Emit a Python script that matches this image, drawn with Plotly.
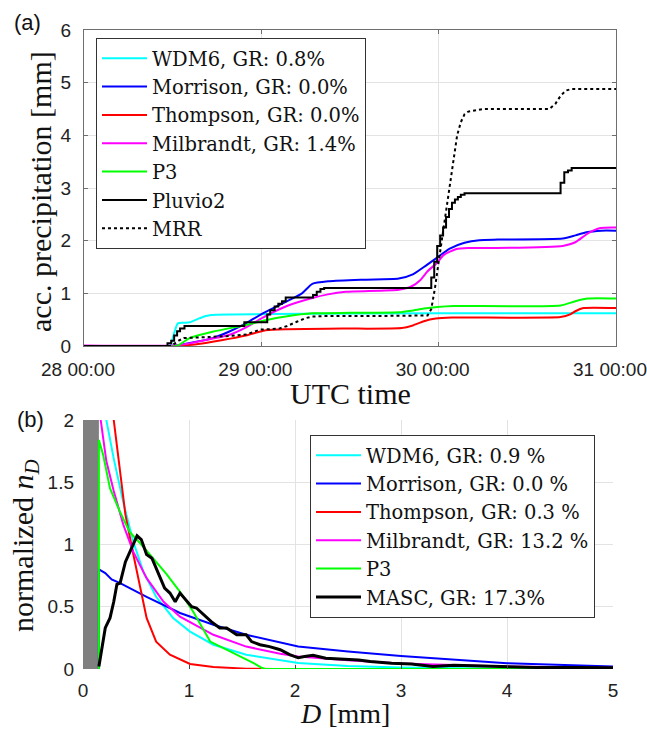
import pandas as pd
import plotly.graph_objects as go

# ---------------- Panel (a): accumulated precipitation ----------------
t0 = pd.Timestamp("2016-01-28 00:00")
day_ticks = ["28 00:00", "29 00:00", "30 00:00", "31 00:00"]

wdm6_h = [0, 11.6, 12.1, 12.7, 13.5, 14.3, 15.5, 16.5, 17.2, 20, 30, 48, 60, 72]
wdm6_v = [0.0, 0.0, 0.2, 0.43, 0.44, 0.45, 0.52, 0.57, 0.59, 0.6, 0.61, 0.62, 0.62, 0.62]

morr_h = [0, 11.8, 14, 17.4, 19.6, 21.9, 24.2, 27.3, 29.5, 30.9, 33.2, 38, 42.6, 44.5, 46,
          47.8, 49.5, 51.5, 53.5, 56, 64.8, 66.5, 68, 70, 72]
morr_v = [0, 0, 0.05, 0.15, 0.27, 0.43, 0.62, 0.84, 1.0, 1.18, 1.23, 1.26, 1.28, 1.36, 1.5,
          1.68, 1.85, 1.96, 2.01, 2.02, 2.04, 2.1, 2.16, 2.19, 2.19]

thom_h = [0, 12.5, 15, 17.4, 19.8, 21.9, 23.5, 24.6, 27.3, 35, 43, 44.5, 46, 47.6, 49.8,
          64.5, 65.8, 66.5, 67.6, 72]
thom_v = [0, 0, 0.03, 0.08, 0.14, 0.2, 0.26, 0.3, 0.32, 0.33, 0.34, 0.39, 0.47, 0.52, 0.54,
          0.55, 0.6, 0.66, 0.72, 0.72]

milb_h = [0, 12, 14.3, 17, 19.6, 22, 24.2, 27.3, 30.9, 33, 35.4, 42.6, 44.3, 45.5, 46.5,
          47.8, 48.7, 50.4, 52, 55.4, 64.8, 66.5, 68.2, 69.9, 72]
milb_v = [0.01, 0.01, 0.05, 0.13, 0.21, 0.36, 0.54, 0.75, 0.91, 0.98, 1.03, 1.07, 1.13, 1.25,
          1.42, 1.58, 1.73, 1.84, 1.86, 1.86, 1.9, 1.97, 2.14, 2.24, 2.25]

p3_h = [0, 12.5, 14.3, 17.4, 21.9, 24.6, 27.3, 30.9, 36, 42.6, 44.3, 46, 47.8, 50, 52,
        64.5, 66.5, 68.2, 72]
p3_v = [0, 0, 0.15, 0.27, 0.4, 0.49, 0.56, 0.62, 0.63, 0.64, 0.67, 0.71, 0.74, 0.76, 0.76,
        0.77, 0.85, 0.9, 0.9]

pluv_h = [0, 11.3, 11.8, 12.2, 12.6, 13.0, 13.6, 21.7, 24.8, 25.2, 25.8, 26.3, 26.8, 27.3,
          31.0, 31.5, 32.0, 32.5, 47.0, 47.4, 47.8, 48.2, 48.6, 49.0, 49.4, 49.8, 50.2,
          50.6, 51.0, 51.5, 64.5, 65.0, 65.5, 66.0, 72]
pluv_v = [0, 0.05, 0.1, 0.2, 0.28, 0.33, 0.38, 0.45, 0.6, 0.68, 0.75, 0.8, 0.85, 0.92,
          0.97, 1.03, 1.08, 1.1, 1.3, 1.6, 1.9, 2.1, 2.25, 2.45, 2.6, 2.72, 2.78,
          2.83, 2.87, 2.9, 3.1, 3.3, 3.33, 3.38, 3.38]

mrr_h = [0, 11.8, 12.3, 12.8, 13.5, 15, 18, 19.8, 22, 23, 23.8, 26.4, 27.5, 28.8, 30, 30.9,
         33, 40, 46.5, 47, 47.5, 48, 48.5, 49, 49.5, 50, 50.5, 51, 51.5, 52, 53, 54, 63,
         63.8, 64.5, 65.2, 66, 72]
mrr_v = [0, 0, 0.05, 0.1, 0.15, 0.16, 0.17, 0.19, 0.22, 0.27, 0.31, 0.33, 0.38, 0.46, 0.53,
         0.56, 0.57, 0.57, 0.58, 0.7, 1.1, 1.6, 2.1, 2.6, 3.1, 3.6, 4.0, 4.25, 4.4, 4.45,
         4.48, 4.5, 4.5, 4.6, 4.75, 4.85, 4.88, 4.88]

# ---------------- Panel (b): normalized size distributions ----------------
blind_zone = [0.0, 0.15]

wdm6_D = [0.15, 0.22, 0.29, 0.38, 0.475, 0.57, 0.69, 0.85, 1.01, 1.23, 1.54, 1.86, 2.03, 2.5, 3, 4, 5]
wdm6_n = [3.5, 2.0, 1.69, 1.34, 1.02, 0.78, 0.58, 0.41, 0.30, 0.195, 0.115, 0.07, 0.048, 0.025,
          0.012, 0.003, 0.001]

morr_D = [0.15, 0.15, 0.21, 0.27, 0.35, 0.60, 0.915, 1.23, 1.54, 1.86, 2.03, 2.5, 3, 4, 5]
morr_n = [0, 0.80, 0.77, 0.72, 0.69, 0.58, 0.45, 0.355, 0.275, 0.214, 0.18, 0.14, 0.105, 0.046, 0.02]

thom_D = [0.15, 0.2, 0.25, 0.29, 0.35, 0.40, 0.475, 0.54, 0.60, 0.69, 0.82, 1.01, 1.23, 1.54, 1.8, 5]
thom_n = [8, 4.5, 2.9, 2.0, 1.6, 1.24, 0.92, 0.65, 0.41, 0.22, 0.115, 0.04, 0.016, 0.003, 0, 0]

milb_D = [0.15, 0.167, 0.22, 0.29, 0.38, 0.475, 0.60, 0.76, 0.915, 1.23, 1.54, 1.86, 2.03, 2.5, 3, 4, 5]
milb_n = [2.3, 2.0, 1.67, 1.43, 1.16, 0.94, 0.73, 0.54, 0.42, 0.275, 0.18, 0.123, 0.10, 0.07,
          0.045, 0.02, 0.01]

p3_D = [0.15, 0.15, 0.19, 0.255, 0.35, 0.44, 0.54, 0.66, 0.79, 0.915, 1.04, 1.20, 1.32, 1.48,
        1.61, 1.69, 1.72, 5]
p3_n = [0, 1.84, 1.72, 1.45, 1.26, 1.10, 1.01, 0.89, 0.76, 0.62, 0.46, 0.22, 0.17, 0.10,
        0.048, 0.008, 0, 0]

masc_D = [0.15, 0.176, 0.21, 0.255, 0.29, 0.32, 0.35, 0.40, 0.44, 0.475, 0.51, 0.55, 0.60,
          0.65, 0.71, 0.77, 0.82, 0.87, 0.915, 0.98, 1.025, 1.07, 1.135, 1.21, 1.29, 1.355,
          1.45, 1.54, 1.59, 1.67, 1.76, 1.86, 1.95, 2.03, 2.09, 2.17, 2.29, 2.44, 2.6, 2.71,
          2.91, 3.1, 3.3, 3.5, 3.89, 4.28, 4.67, 5.0]
masc_n = [0.02, 0.17, 0.33, 0.41, 0.54, 0.68, 0.69, 0.86, 0.94, 1.01, 1.07, 1.04, 0.92,
          0.89, 0.77, 0.65, 0.61, 0.54, 0.61, 0.54, 0.50, 0.49, 0.44, 0.38, 0.33, 0.33,
          0.275, 0.275, 0.22, 0.195, 0.18, 0.155, 0.115, 0.09, 0.1, 0.11, 0.086, 0.078,
          0.072, 0.06, 0.046, 0.04, 0.02, 0.03, 0.02, 0.012, 0.012, 0.01]

names_a = ["WDM6, GR: 0.8%", "Morrison, GR: 0.0%", "Thompson, GR: 0.0%",
           "Milbrandt, GR: 1.4%", "P3", "Pluvio2", "MRR"]
names_b = ["WDM6, GR: 0.9 %", "Morrison, GR: 0.0 %", "Thompson, GR: 0.3 %",
           "Milbrandt, GR: 13.2 %", "P3", "MASC, GR: 17.3%"]
colors = ["#00ffff", "#0000ff", "#ff0000", "#ff00ff", "#00ff00", "#000000"]

W, H = 647, 731
SANS = "Liberation Sans, Arial, sans-serif"
SERIF = "Liberation Serif, Times New Roman, serif"
LEGF = "DejaVu Serif, serif"


def tt(hours):
    return [t0 + pd.Timedelta(hours=h) for h in hours]


fig = go.Figure()

series_a = [(wdm6_h, wdm6_v), (morr_h, morr_v), (thom_h, thom_v), (milb_h, milb_v), (p3_h, p3_v)]
for (h, v), nm, c in zip(series_a, names_a[:5], colors[:5]):
    fig.add_trace(go.Scatter(x=tt(h), y=v, mode="lines", name=nm,
                             line=dict(color=c, width=2, shape="spline", smoothing=0.6),
                             xaxis="x", yaxis="y", legend="legend"))
fig.add_trace(go.Scatter(x=tt(pluv_h), y=pluv_v, mode="lines", name=names_a[5],
                         line=dict(color="black", width=2, shape="hv"),
                         xaxis="x", yaxis="y", legend="legend"))
fig.add_trace(go.Scatter(x=tt(mrr_h), y=mrr_v, mode="lines", name=names_a[6],
                         line=dict(color="black", width=2, dash="dot"),
                         xaxis="x", yaxis="y", legend="legend"))

# panel (b)
fig.add_trace(go.Scatter(x=[blind_zone[0], blind_zone[1], blind_zone[1], blind_zone[0]],
                         y=[0, 0, 2, 2], fill="toself", mode="none",
                         fillcolor="#808080", showlegend=False,
                         xaxis="x2", yaxis="y2", hoverinfo="skip"))
series_b = [(wdm6_D, wdm6_n), (morr_D, morr_n), (thom_D, thom_n), (milb_D, milb_n), (p3_D, p3_n)]
for (d, n), nm, c in zip(series_b, names_b[:5], colors[:5]):
    fig.add_trace(go.Scatter(x=d, y=n, mode="lines", name=nm,
                             line=dict(color=c, width=2),
                             xaxis="x2", yaxis="y2", legend="legend2"))
fig.add_trace(go.Scatter(x=masc_D, y=masc_n, mode="lines", name=names_b[5],
                         line=dict(color="black", width=3),
                         xaxis="x2", yaxis="y2", legend="legend2"))

grid = "#e3e3e3"
axcol = "#6e6e6e"
tickfont = dict(family=SANS, size=19, color="#222")

fig.update_layout(
    width=W, height=H,
    margin=dict(l=0, r=0, t=0, b=0, autoexpand=False),
    paper_bgcolor="white", plot_bgcolor="white",
    showlegend=True,
    xaxis=dict(domain=[84 / W, 616 / W], anchor="y", type="date", automargin=False,
               range=[t0, t0 + pd.Timedelta(hours=72)],
               tickvals=[t0 + pd.Timedelta(days=k) for k in range(4)],
               ticktext=day_ticks, ticklabeloverflow="allow", ticklabelshift=-6,
               showgrid=True, gridcolor=grid, zeroline=False,
               showline=True, linecolor=axcol, linewidth=1, mirror="ticks",
               ticks="inside", ticklen=4, tickcolor=axcol,
               tickfont=tickfont, ticklabelstandoff=6),
    yaxis=dict(domain=[1 - 346 / H, 1 - 30 / H], anchor="x", range=[0, 6], automargin=False,
               tickvals=[0, 1, 2, 3, 4, 5, 6], ticklabeloverflow="allow",
               showgrid=True, gridcolor=grid, zeroline=False,
               showline=True, linecolor=axcol, linewidth=1, mirror="ticks",
               ticks="inside", ticklen=4, tickcolor=axcol,
               tickfont=tickfont, ticklabelstandoff=8),
    xaxis2=dict(domain=[83 / W, 613 / W], anchor="y2", range=[0, 5], automargin=False,
                tickvals=[0, 1, 2, 3, 4, 5], ticklabeloverflow="allow",
                showgrid=True, gridcolor=grid, zeroline=False, showline=False,
                ticks="inside", ticklen=4, tickcolor="#444",
                tickfont=tickfont, ticklabelstandoff=8),
    yaxis2=dict(domain=[1 - 669 / H, 1 - 420 / H], anchor="x2", range=[0, 2], automargin=False,
                tickvals=[0, 0.5, 1, 1.5, 2], ticktext=["0", "0.5", "1", "1.5", "2"],
                ticklabeloverflow="allow",
                showgrid=True, gridcolor=grid, zeroline=False, showline=False,
                ticks="", tickfont=tickfont, ticklabelstandoff=8),
    legend=dict(x=96 / W, y=1 - 38 / H, xanchor="left", yanchor="top",
                bgcolor="white", bordercolor="#333", borderwidth=1,
                font=dict(family=LEGF, size=19.5, color="#111"),
                itemwidth=45, tracegroupgap=0),
    legend2=dict(x=310 / W, y=1 - 435 / H, xanchor="left", yanchor="top",
                 bgcolor="white", bordercolor="#333", borderwidth=1,
                 font=dict(family=LEGF, size=19.5, color="#111"),
                 itemwidth=45, tracegroupgap=0),
    annotations=[
        dict(text="acc. precipitation [mm]", x=40 / W, y=1 - 192 / H, xref="paper", yref="paper",
             showarrow=False, textangle=-90, font=dict(family=SERIF, size=30, color="#111"),
             xanchor="center", yanchor="middle"),
        dict(text="UTC time", x=350 / W, y=1 - 393 / H, xref="paper", yref="paper",
             showarrow=False, font=dict(family=SERIF, size=30, color="#111"),
             xanchor="center", yanchor="middle"),
        dict(text="normalized <i>n</i><sub><i>D</i></sub>", x=25 / W, y=1 - 546 / H,
             xref="paper", yref="paper", showarrow=False, textangle=-90,
             font=dict(family=SERIF, size=30, color="#111"),
             xanchor="center", yanchor="middle"),
        dict(text="<i>D</i> [mm]", x=345 / W, y=1 - 713 / H, xref="paper", yref="paper",
             showarrow=False, font=dict(family=SERIF, size=28, color="#111"),
             xanchor="center", yanchor="middle"),
        dict(text="(a)", x=27 / W, y=1 - 23 / H, xref="paper", yref="paper",
             showarrow=False, font=dict(family=SANS, size=22, color="#111"),
             xanchor="center", yanchor="middle"),
        dict(text="(b)", x=31 / W, y=1 - 419 / H, xref="paper", yref="paper",
             showarrow=False, font=dict(family=SANS, size=22, color="#111"),
             xanchor="center", yanchor="middle"),
    ],
)

fig.write_html("out.html", config={"displayModeBar": False},
               post_script="document.body.style.margin='0px';document.body.style.padding='0px';"
                           "document.body.style.overflow='hidden';")
